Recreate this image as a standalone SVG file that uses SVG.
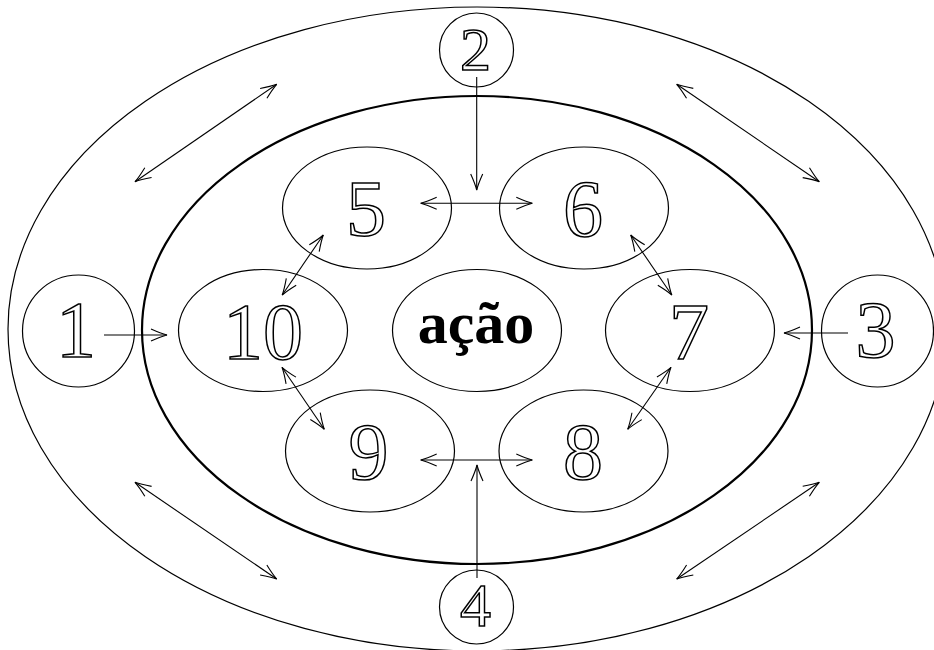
<svg xmlns="http://www.w3.org/2000/svg" width="934" height="650" viewBox="0 0 934 650">
<style>
.bg{fill:#fff}
.ring{fill:none;stroke:#000}
.node{fill:none;stroke:#000;stroke-width:1.2}
.num{font-family:"Liberation Serif","DejaVu Serif",serif;fill:#fff;stroke:#000;stroke-width:1.5;text-anchor:middle}
.big{font-size:80px}
.small{font-size:62px}
.word{font-family:"Liberation Serif","DejaVu Serif",serif;font-weight:bold;font-size:60px;fill:#000;text-anchor:middle}
.c{fill:none;stroke:#000;stroke-width:1.1}
</style>
<defs>
<marker id="ah" viewBox="-18 -8 20 16" refX="0" refY="0" markerWidth="20" markerHeight="16" markerUnits="userSpaceOnUse" orient="auto-start-reverse">
<path d="M-16,-6 Q-6,-1.5 0,0 Q-6,1.5 -16,6" fill="none" stroke="#000" stroke-width="1.1"/>
</marker>
</defs>
<rect class="bg" x="0" y="0" width="934" height="650"/>
<g id="outer-ring"><ellipse class="ring" cx="477" cy="329" rx="469" ry="322" stroke-width="1.2"/></g>
<g id="inner-ring"><ellipse class="ring" cx="477" cy="330" rx="335" ry="234" stroke-width="2.2"/></g>

<g id="n1"><circle class="node" cx="78.5" cy="331" r="56"/><text class="num big" x="76" y="357">1</text></g>
<g id="n2"><circle class="node" cx="476.5" cy="50" r="37"/><text class="num small" x="475.5" y="70">2</text></g>
<g id="n3"><circle class="node" cx="877.5" cy="331" r="56"/><text class="num big" x="875.5" y="357">3</text></g>
<g id="n4"><circle class="node" cx="476.5" cy="607" r="37"/><text class="num small" x="475.5" y="626">4</text></g>

<g id="n5"><ellipse class="node" cx="367" cy="208" rx="84.5" ry="61"/><text class="num big" x="366" y="236">5</text></g>
<g id="n6"><ellipse class="node" cx="584" cy="208" rx="84.5" ry="61"/><text class="num big" x="583" y="236">6</text></g>
<g id="n10"><ellipse class="node" cx="263" cy="330.5" rx="84.5" ry="61"/><text class="num big" x="263" y="358.5">10</text></g>
<g id="naction"><ellipse class="node" cx="477" cy="330.5" rx="84.5" ry="61"/><text class="word" x="476" y="343">ação</text></g>
<g id="n7"><ellipse class="node" cx="690" cy="330.5" rx="84.5" ry="61"/><text class="num big" x="689" y="358.5">7</text></g>
<g id="n9"><ellipse class="node" cx="370" cy="451" rx="84.5" ry="61"/><text class="num big" x="368.5" y="479">9</text></g>
<g id="n8"><ellipse class="node" cx="583.5" cy="451" rx="84.5" ry="61"/><text class="num big" x="583" y="479">8</text></g>

<g id="connectors">
<line class="c" x1="104" y1="335" x2="167" y2="335" marker-end="url(#ah)"/>
<line class="c" x1="848" y1="333" x2="784" y2="333" marker-end="url(#ah)"/>
<line class="c" x1="476.7" y1="77" x2="476.7" y2="190" marker-end="url(#ah)"/>
<line class="c" x1="477" y1="578" x2="477" y2="465" marker-end="url(#ah)"/>
<line class="c" x1="420.7" y1="203.3" x2="532.3" y2="203.3" marker-start="url(#ah)" marker-end="url(#ah)"/>
<line class="c" x1="420.7" y1="460" x2="532.3" y2="460" marker-start="url(#ah)" marker-end="url(#ah)"/>
<line class="c" x1="323.3" y1="235" x2="282.2" y2="295" marker-start="url(#ah)" marker-end="url(#ah)"/>
<line class="c" x1="630.7" y1="235" x2="671.8" y2="295" marker-start="url(#ah)" marker-end="url(#ah)"/>
<line class="c" x1="282" y1="367.3" x2="324.3" y2="429.3" marker-start="url(#ah)" marker-end="url(#ah)"/>
<line class="c" x1="671" y1="367.3" x2="627.7" y2="429.3" marker-start="url(#ah)" marker-end="url(#ah)"/>
<line class="c" x1="276.7" y1="84.3" x2="135" y2="181.7" marker-start="url(#ah)" marker-end="url(#ah)"/>
<line class="c" x1="676.7" y1="84.3" x2="819.3" y2="181.7" marker-start="url(#ah)" marker-end="url(#ah)"/>
<line class="c" x1="135" y1="482.3" x2="276.7" y2="579" marker-start="url(#ah)" marker-end="url(#ah)"/>
<line class="c" x1="819.3" y1="482.3" x2="676.7" y2="579" marker-start="url(#ah)" marker-end="url(#ah)"/>
</g>
</svg>
